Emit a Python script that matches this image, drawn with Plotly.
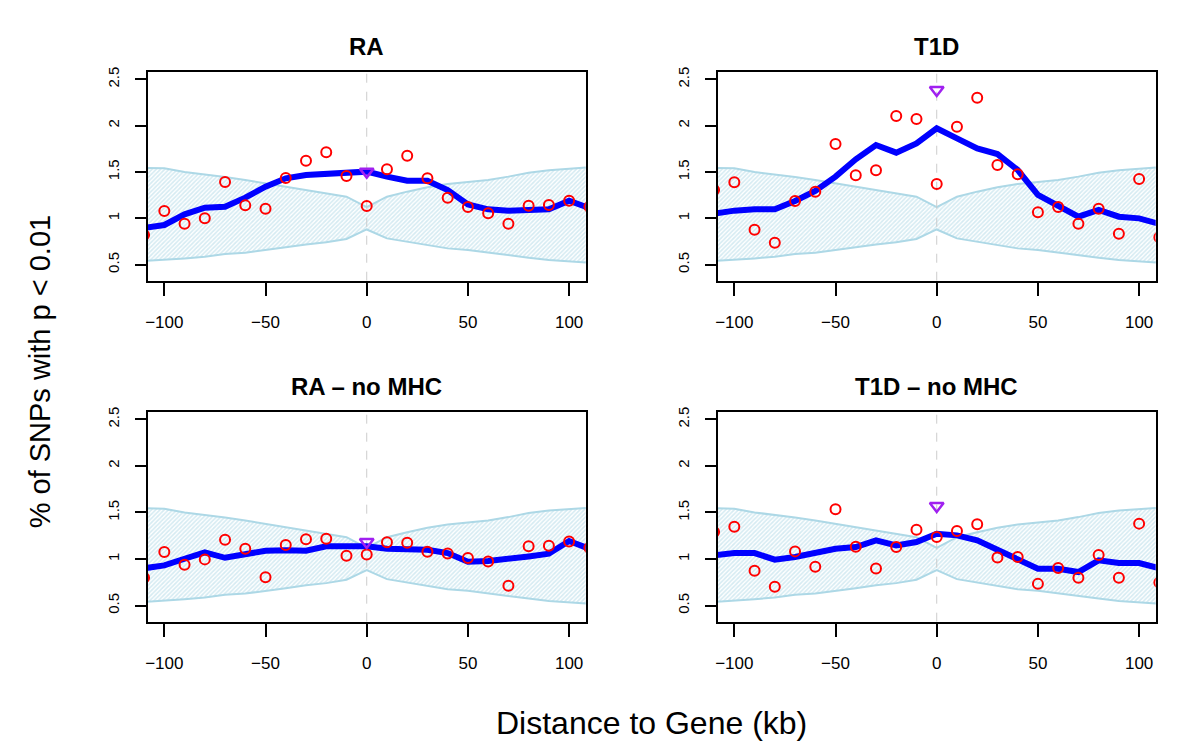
import plotly.graph_objects as go
from plotly.subplots import make_subplots

# distance to gene (kb)
DIST = [-110, -100, -90, -80, -70, -60, -50, -40, -30, -20, -10, 0,
        10, 20, 30, 40, 50, 60, 70, 80, 90, 100, 110]

PANELS = ["RA", "T1D", "RA – no MHC", "T1D – no MHC"]

# observed % of SNPs with p < 0.01 (red circles)
ra_pts = [0.82, 1.079, 0.942, 1.0, 1.392, 1.140, 1.104, 1.435, 1.622, 1.712, 1.457, 1.133,
          1.529, 1.676, 1.432, 1.223, 1.122, 1.054, 0.942, 1.137, 1.144, 1.191, 1.126]
t1d_pts = [1.306, 1.389, 0.878, 0.737, 1.187, 1.288, 1.802, 1.464, 1.518, 2.104, 2.072, 1.371,
           1.989, 2.302, 1.576, 1.475, 1.065, 1.122, 0.942, 1.104, 0.834, 1.424, 0.795]
ra_nomhc_pts = [0.798, 1.075, 0.938, 0.996, 1.207, 1.110, 0.805, 1.150, 1.211, 1.218, 1.035, 1.049,
                1.179, 1.175, 1.078, 1.060, 1.010, 0.974, 0.712, 1.136, 1.143, 1.189, 1.121]
t1d_nomhc_pts = [1.290, 1.347, 0.873, 0.701, 1.082, 0.917, 1.534, 1.132, 0.899, 1.129, 1.315, 1.236,
                 1.301, 1.373, 1.017, 1.021, 0.733, 0.903, 0.798, 1.042, 0.798, 1.380, 0.748]

# smoothed curve (blue)
ra_smooth = [0.897, 0.928, 1.043, 1.115, 1.126, 1.223, 1.342, 1.432, 1.468, 1.475, 1.493, 1.504,
             1.45, 1.406, 1.406, 1.306, 1.151, 1.097, 1.083, 1.090, 1.097, 1.191, 1.11]
t1d_smooth = [1.05, 1.083, 1.097, 1.097, 1.187, 1.295, 1.45, 1.637, 1.791, 1.709, 1.809, 1.971,
              1.863, 1.755, 1.694, 1.522, 1.252, 1.144, 1.018, 1.090, 1.018, 1.0, 0.94]
ra_nomhc_smooth = [0.90, 0.931, 1.003, 1.071, 1.013, 1.046, 1.089, 1.093, 1.089, 1.136, 1.139, 1.136,
                   1.110, 1.107, 1.100, 1.064, 0.970, 0.978, 0.996, 1.028, 1.057, 1.193, 1.11]
t1d_nomhc_smooth = [1.04, 1.064, 1.064, 0.993, 1.021, 1.071, 1.110, 1.128, 1.200, 1.146, 1.182, 1.272,
                    1.254, 1.200, 1.100, 1.003, 0.896, 0.896, 0.860, 0.986, 0.957, 0.957, 0.90]

# value at the gene itself (purple triangle)
gene_val = [1.504, 2.385, 1.182, 1.570]

# null envelope (hatched band)
band_hi = [1.545, 1.54, 1.50, 1.475, 1.446, 1.414, 1.378, 1.35, 1.313, 1.277, 1.234, 1.12,
           1.234, 1.288, 1.335, 1.37, 1.396, 1.414, 1.45, 1.493, 1.52, 1.536, 1.55]
band_lo = [0.54, 0.558, 0.568, 0.586, 0.615, 0.629, 0.658, 0.687, 0.719, 0.741, 0.777, 0.88,
           0.784, 0.741, 0.712, 0.676, 0.658, 0.629, 0.604, 0.576, 0.55, 0.532, 0.52]

points = [ra_pts, t1d_pts, ra_nomhc_pts, t1d_nomhc_pts]
smooths = [ra_smooth, t1d_smooth, ra_nomhc_smooth, t1d_nomhc_smooth]

XRANGE = [-108.2, 108.2]
YRANGE = [0.327, 2.582]
FONT = "Liberation Sans, Arial, Helvetica, sans-serif"

fig = make_subplots(rows=2, cols=2)

xdom = [[0.1231, 0.4881], [0.5981, 0.9631]]
ydom = [[0.6262, 0.9045], [0.1722, 0.4518]]

for i in range(4):
    r, c = i // 2 + 1, i % 2 + 1
    fig.add_trace(go.Scatter(
        x=DIST + DIST[::-1], y=band_hi + band_lo[::-1],
        fill="toself", mode="lines",
        line=dict(color="#ADD8E6", width=2),
        fillcolor="rgba(0,0,0,0)",
        fillpattern=dict(shape="/", fgcolor="#ADD8E6", bgcolor="white", size=3, solidity=0.55),
        hoverinfo="skip", showlegend=False), row=r, col=c)
    fig.add_trace(go.Scatter(
        x=[0, 0], y=YRANGE, mode="lines",
        line=dict(color="#CCCCCC", width=1, dash="dash"),
        hoverinfo="skip", showlegend=False), row=r, col=c)
    fig.add_trace(go.Scatter(
        x=DIST, y=smooths[i], mode="lines",
        line=dict(color="#0000FF", width=6),
        showlegend=False), row=r, col=c)
    fig.add_trace(go.Scatter(
        x=DIST, y=points[i], mode="markers",
        marker=dict(symbol="circle-open", size=10, color="#FF0000", line=dict(width=2, color="#FF0000")),
        showlegend=False), row=r, col=c)
    fig.add_trace(go.Scatter(
        x=[0], y=[gene_val[i]], mode="markers",
        marker=dict(symbol="triangle-down-open", size=12, color="#A020F0",
                    line=dict(width=2.5, color="#A020F0")),
        showlegend=False), row=r, col=c)

    fig.update_xaxes(domain=xdom[c - 1], range=XRANGE, tickvals=[-100, -50, 0, 50, 100],
                     showgrid=False, zeroline=False, showline=True, mirror=True,
                     linecolor="black", linewidth=2, ticks="outside", ticklen=13,
                     tickwidth=1.5, tickcolor="black", ticklabelstandoff=12,
                     tickfont=dict(size=17, color="black", family=FONT),
                     automargin=False, row=r, col=c)
    fig.update_yaxes(domain=ydom[r - 1], range=YRANGE, tickvals=[0.5, 1, 1.5, 2, 2.5],
                     ticktext=["0.5", "1", "1.5", "2", "2.5"], tickangle=-90,
                     showgrid=False, zeroline=False, showline=True, mirror=True,
                     linecolor="black", linewidth=2, ticks="outside", ticklen=11,
                     tickwidth=1.5, tickcolor="black", ticklabelstandoff=10,
                     tickfont=dict(size=15, color="black", family=FONT),
                     automargin=False, row=r, col=c)

title_pos = [(0.3056, 0.9378), (0.7806, 0.9378), (0.3056, 0.4851), (0.7806, 0.4851)]
for name, (tx, ty) in zip(PANELS, title_pos):
    fig.add_annotation(text="<b>%s</b>" % name, x=tx, y=ty, xref="paper", yref="paper",
                       xanchor="center", yanchor="middle", showarrow=False,
                       font=dict(size=24, color="black", family=FONT))

fig.add_annotation(text="Distance to Gene (kb)", x=0.543, y=0.037, xref="paper", yref="paper",
                   xanchor="center", yanchor="middle", showarrow=False,
                   font=dict(size=32, color="black", family=FONT))
fig.add_annotation(text="% of SNPs with p < 0.01", x=0.033, y=0.505, xref="paper", yref="paper",
                   xanchor="center", yanchor="middle", textangle=-90, showarrow=False,
                   font=dict(size=29, color="black", family=FONT))

fig.update_layout(width=1200, height=751, margin=dict(l=0, r=0, t=0, b=0),
                  paper_bgcolor="white", plot_bgcolor="white", showlegend=False,
                  font=dict(family=FONT))

# drop the page's default body margin so the figure sits at the window origin
fig.write_html("out.html", config={"displayModeBar": False},
               post_script="document.body.style.margin='0';")
